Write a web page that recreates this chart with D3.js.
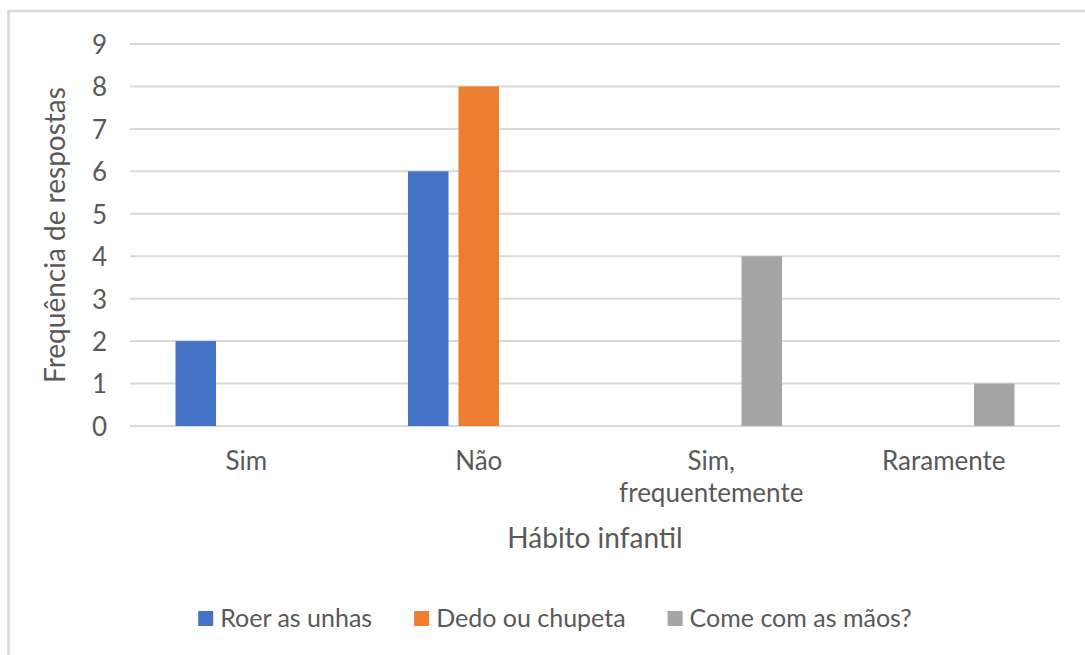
<!DOCTYPE html>
<html>
<head>
<meta charset="utf-8">
<script src="https://cdn.jsdelivr.net/npm/d3@7/dist/d3.min.js"></script>
<style>
  html, body { margin: 0; padding: 0; background: #fff; }
  svg { display: block; }
  text { font-family: Lato, "Open Sans", sans-serif; fill: #595959; }
</style>
</head>
<body>
<svg id="chart" width="1085" height="655"></svg>
<script>
// ---- data ----
const categories = [["Sim"], ["Não"], ["Sim,", "frequentemente"], ["Raramente"]];
const seriesNames = ["Roer as unhas", "Dedo ou chupeta", "Come com as mãos?"];
const roerAsUnhas = [2, 6, 0, 0];
const dedoOuChupeta = [0, 8, 0, 0];
const comeComAsMaos = [0, 0, 4, 1];
const seriesColors = ["#4472C4", "#ED7D31", "#A5A5A5"];
const yTicks = [0, 1, 2, 3, 4, 5, 6, 7, 8, 9];
const xTitle = "Hábito infantil";
const yTitle = "Frequência de respostas";

const seriesValues = [roerAsUnhas, dedoOuChupeta, comeComAsMaos];
const catKeys = categories.map(c => c.join(" "));

const svg = d3.select("#chart");
const W = 1085, H = 655;
const plot = { left: 130, right: 1060, top: 44, bottom: 426 };

// chart border
svg.append("rect")
  .attr("x", 8.5).attr("y", 11).attr("width", W + 20).attr("height", H + 20)
  .attr("fill", "#fff").attr("stroke", "#d9d9d9").attr("stroke-width", 2.5);

const y = d3.scaleLinear().domain([0, 9]).range([plot.bottom, plot.top]);
const x0 = d3.scaleBand().domain(catKeys).range([plot.left, plot.right]).paddingInner(0).paddingOuter(0);
const x1 = d3.scaleBand().domain(seriesNames).range([0, x0.bandwidth()]).paddingInner(0.198).paddingOuter(0.901);

// gridlines
const grid = svg.append("g");
grid.selectAll("line").data(yTicks).join("line")
  .attr("x1", plot.left).attr("x2", plot.right)
  .attr("y1", d => y(d)).attr("y2", d => y(d))
  .attr("stroke", "#d9d9d9").attr("stroke-width", 2);

// y tick labels via axis
const yAxis = d3.axisLeft(y).tickValues(yTicks).tickSize(0).tickPadding(0).tickFormat(d3.format("d"));
const yg = svg.append("g").attr("transform", `translate(107,0)`).call(yAxis);
yg.select(".domain").remove();
yg.selectAll("text").attr("font-size", 26).attr("fill", "#595959")
  .style("font-family", "Lato, sans-serif").attr("dy", "0.36em");

// bars
const rows = catKeys.map((k, i) => ({ key: k, vals: seriesNames.map((s, j) => ({ s, j, v: seriesValues[j][i] })) }));
const groups = svg.append("g").selectAll("g").data(rows).join("g")
  .attr("transform", d => `translate(${x0(d.key)},0)`);
groups.selectAll("rect").data(d => d.vals.filter(e => e.v > 0)).join("rect")
  .attr("x", d => x1(d.s)).attr("width", x1.bandwidth())
  .attr("y", d => y(d.v)).attr("height", d => y(0) - y(d.v))
  .attr("fill", d => seriesColors[d.j]);

// x category labels
const xl = svg.append("g");
categories.forEach((lines, i) => {
  const t = xl.append("text")
    .attr("x", x0(catKeys[i]) + x0.bandwidth() / 2)
    .attr("y", 470)
    .attr("text-anchor", "middle").attr("font-size", 26);
  lines.forEach((ln, k) => {
    t.append("tspan").attr("x", x0(catKeys[i]) + x0.bandwidth() / 2)
      .attr("dy", k === 0 ? 0 : 32).text(ln);
  });
});

// axis titles
svg.append("text").attr("x", (plot.left + plot.right) / 2).attr("y", 548)
  .attr("text-anchor", "middle").attr("font-size", 28).text(xTitle);
svg.append("text").attr("transform", `translate(65,${(plot.top + plot.bottom) / 2}) rotate(-90)`)
  .attr("text-anchor", "middle").attr("font-size", 28).text(yTitle);

// legend
const legend = svg.append("g");
const items = legend.selectAll("g").data(seriesNames).join("g");
items.append("rect").attr("width", 15).attr("height", 15).attr("y", 611)
  .attr("fill", (d, i) => seriesColors[i]);
items.append("text").attr("x", 22).attr("y", 626.5).attr("font-size", 25).text(d => d);
let pos = 0;
const offsets = [];
items.each(function () {
  const w = d3.select(this).select("text").node().getComputedTextLength();
  offsets.push(pos);
  pos += 22 + w + 42;
});
const totalW = pos - 42;
const startX = 555 - totalW / 2;
items.attr("transform", (d, i) => `translate(${startX + offsets[i]},0)`);
</script>
</body>
</html>
